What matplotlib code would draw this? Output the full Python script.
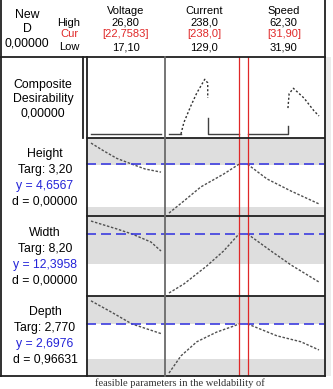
import matplotlib.pyplot as plt
from matplotlib.lines import Line2D
from matplotlib.patches import Rectangle
from matplotlib.transforms import Affine2D

W, H = 333, 389

# factors (columns)
factors = ['Voltage', 'Current', 'Speed']
high_txt = ['26,80', '238,0', '62,30']
cur_txt = ['[22,7583]', '[238,0]', '[31,90]']
low_txt = ['17,10', '129,0', '31,90']
lows = [17.10, 129.0, 31.90]
highs = [26.80, 238.0, 62.30]
cur_vals = [22.7583, 238.0, 31.90]
red_cols = [1, 2]  # columns where the current-setting line shows

# responses (rows)
responses = ['Height', 'Width', 'Depth']
targ_txt = ['Targ: 3,20', 'Targ: 8,20', 'Targ: 2,770']
y_txt = ['y = 4,6567', 'y = 12,3958', 'y = 2,6976']
d_txt = ['d = 0,00000', 'd = 0,00000', 'd = 0,96631']
y_now = [4.6567, 12.3958, 2.6976]
row_ylim = [(2.0, 6.0), (6.0, 14.25), (2.0, 3.075)]
row_band = [(2.46, 4.64), (5.0, 9.3), (2.228, 2.70)]

# predicted response curves: [response][factor] -> (x, y)
height_curves = [
    ([17.1, 18.9, 20.7, 22.76, 24.6, 26.8], [5.74, 5.33, 4.95, 4.66, 4.41, 4.25]),
    ([129, 152.2, 178.5, 214.0, 238], [2.15, 2.77, 3.49, 4.15, 4.6567]),
    ([31.9, 40.2, 50.4, 62.3], [4.6567, 3.90, 3.28, 2.62]),
]
width_curves = [
    ([17.1, 20.7, 22.76, 25.4, 26.8], [13.73, 12.91, 12.40, 11.57, 10.64]),
    ([129, 152.2, 187.7, 214.0, 238], [6.31, 7.24, 9.09, 10.64, 12.40]),
    ([31.9, 41.9, 50.4, 62.3], [12.40, 10.64, 9.20, 7.44]),
]
depth_curves = [
    ([17.1, 19.9, 22.76, 26.8], [3.01, 2.86, 2.70, 2.57]),
    ([129, 147.6, 172.3, 203.2, 229.5, 238], [2.04, 2.27, 2.46, 2.59, 2.67, 2.70]),
    ([31.9, 44.4, 54.6, 62.3], [2.70, 2.54, 2.46, 2.35]),
]
curves = [height_curves, width_curves, depth_curves]

# composite desirability
comp_solid = [
    [([17.1, 26.8], [0, 0])],
    [([129, 147.6], [0, 0]), ([189.3, 189.3, 238], [0.22, 0, 0])],
    [([31.9, 49.1, 49.1], [0, 0, 0.11])],
]
comp_dotted = [
    [],
    [([147.6, 152.2, 163.0, 172.3, 184.7, 189.3, 189.3], [0, 0.16, 0.39, 0.57, 0.76, 0.71, 0.50])],
    [([49.1, 49.6, 51.4, 55.9, 60.2, 62.3], [0.36, 0.56, 0.635, 0.50, 0.32, 0.25])],
]

# layout in pixels
col_x = [86.5, 164.7, 243.5, 324.0]
pad_l = [4.5, 4.3, 4.0]
pad_r = [3.7, 4.5, 5.0]
row_y = [57, 138, 216, 296, 376]

plt.rcParams['font.family'] = 'Liberation Sans'
fig = plt.figure(figsize=(W / 100, H / 100), dpi=100)
fig.patch.set_facecolor('white')
pix = Affine2D().scale(1 / W, -1 / H).translate(0, 1) + fig.transFigure

RED = '#e02828'
BLUE = '#2424d8'
GRAY_BG = '#dedede'
CURVE = '#505050'
fs = 8.8
fs_head = 8.0


def hline(x0, x1, y, **kw):
    fig.add_artist(Line2D([x0, x1], [y, y], transform=pix, **kw))


def vline(x, y0, y1, **kw):
    fig.add_artist(Line2D([x, x], [y0, y1], transform=pix, **kw))


def add_ax(c, r):
    x0, x1 = col_x[c], col_x[c + 1]
    y0, y1 = row_y[r], row_y[r + 1]
    ax = fig.add_axes([x0 / W, 1 - y1 / H, (x1 - x0) / W, (y1 - y0) / H])
    span = highs[c] - lows[c]
    inner = (x1 - x0) - pad_l[c] - pad_r[c]
    ax.set_xlim(lows[c] - pad_l[c] / inner * span, highs[c] + pad_r[c] / inner * span)
    ax.set_xticks([])
    ax.set_yticks([])
    for s in ax.spines.values():
        s.set_visible(False)
    return ax


# light shadow on the right
fig.add_artist(Rectangle((325, 57), 6, 319, transform=pix, facecolor='#ececec', edgecolor='none'))

# composite row
for c in range(3):
    ax = add_ax(c, 0)
    ax.set_facecolor('white')
    ax.set_ylim(-0.056, 1.07)
    for xs, ys in comp_solid[c]:
        ax.plot(xs, ys, color='#404040', lw=1.0)
    for xs, ys in comp_dotted[c]:
        ax.plot(xs, ys, color='#303030', lw=1.0, ls=(0, (1.5, 1.5)))
    if c in red_cols:
        ax.axvline(cur_vals[c], color=RED, lw=0.9)

# response rows
for r in range(3):
    for c in range(3):
        ax = add_ax(c, r + 1)
        ax.set_facecolor(GRAY_BG)
        ax.set_ylim(*row_ylim[r])
        ax.axhspan(*row_band[r], color='white', lw=0)
        xs, ys = curves[r][c]
        ax.plot(xs, ys, color=CURVE, lw=1.0, ls=(0, (1.8, 1.2)))
        ax.axhline(y_now[r], color='#3c3ce0', lw=1.2, ls=(0, (6, 3)))
        if c in red_cols:
            ax.axvline(cur_vals[c], color=RED, lw=0.9)

# frame and dividers
dark = dict(color='#202020', lw=1.3)
hline(0, 325, 57, **dark)
for y in row_y[1:4]:
    hline(86.5, 324, y, **dark)
hline(0, 325, 376, **dark)
vline(1.2, 0, 376, **dark)
vline(325, 0, 376, **dark)
vline(86.5, 57, 376, **dark)
vline(82.5, 57, 138, **dark)
vline(164.7, 57, 376, color='#6a6a6a', lw=1.3)

# header text
fig.text(27, 15, 'New', transform=pix, ha='center', va='center', fontsize=fs)
fig.text(27, 28.5, 'D', transform=pix, ha='center', va='center', fontsize=fs)
fig.text(27, 43, '0,00000', transform=pix, ha='center', va='center', fontsize=fs)
fig.text(69, 22.5, 'High', transform=pix, ha='center', va='center', fontsize=fs_head)
fig.text(69, 34, 'Cur', transform=pix, ha='center', va='center', fontsize=fs_head, color=RED)
fig.text(69, 47, 'Low', transform=pix, ha='center', va='center', fontsize=fs_head)
for c in range(3):
    xc = (col_x[c] + col_x[c + 1]) / 2
    fig.text(xc, 10.5, factors[c], transform=pix, ha='center', va='center', fontsize=fs_head)
    fig.text(xc, 22.5, high_txt[c], transform=pix, ha='center', va='center', fontsize=fs_head)
    fig.text(xc, 34, cur_txt[c], transform=pix, ha='center', va='center', fontsize=fs_head, color=RED)
    fig.text(xc, 47, low_txt[c], transform=pix, ha='center', va='center', fontsize=fs_head)

# row labels
fig.text(43, 85, 'Composite', transform=pix, ha='center', va='center', fontsize=fs)
fig.text(43, 99, 'Desirability', transform=pix, ha='center', va='center', fontsize=fs)
fig.text(43, 113, '0,00000', transform=pix, ha='center', va='center', fontsize=fs)
label_y0 = [154, 233, 312]
for r in range(3):
    y0 = label_y0[r]
    fig.text(45, y0, responses[r], transform=pix, ha='center', va='center', fontsize=fs)
    fig.text(45, y0 + 16, targ_txt[r], transform=pix, ha='center', va='center', fontsize=fs)
    fig.text(45, y0 + 32, y_txt[r], transform=pix, ha='center', va='center', fontsize=fs, color=BLUE)
    fig.text(45, y0 + 47.5, d_txt[r], transform=pix, ha='center', va='center', fontsize=fs)

# caption at the bottom edge
fig.text(180, 378.5, 'feasible parameters in the weldability of', transform=pix,
         ha='center', va='top', fontsize=7.6, family='Liberation Serif', color='#333333')

fig.savefig('out.png', dpi=100)
